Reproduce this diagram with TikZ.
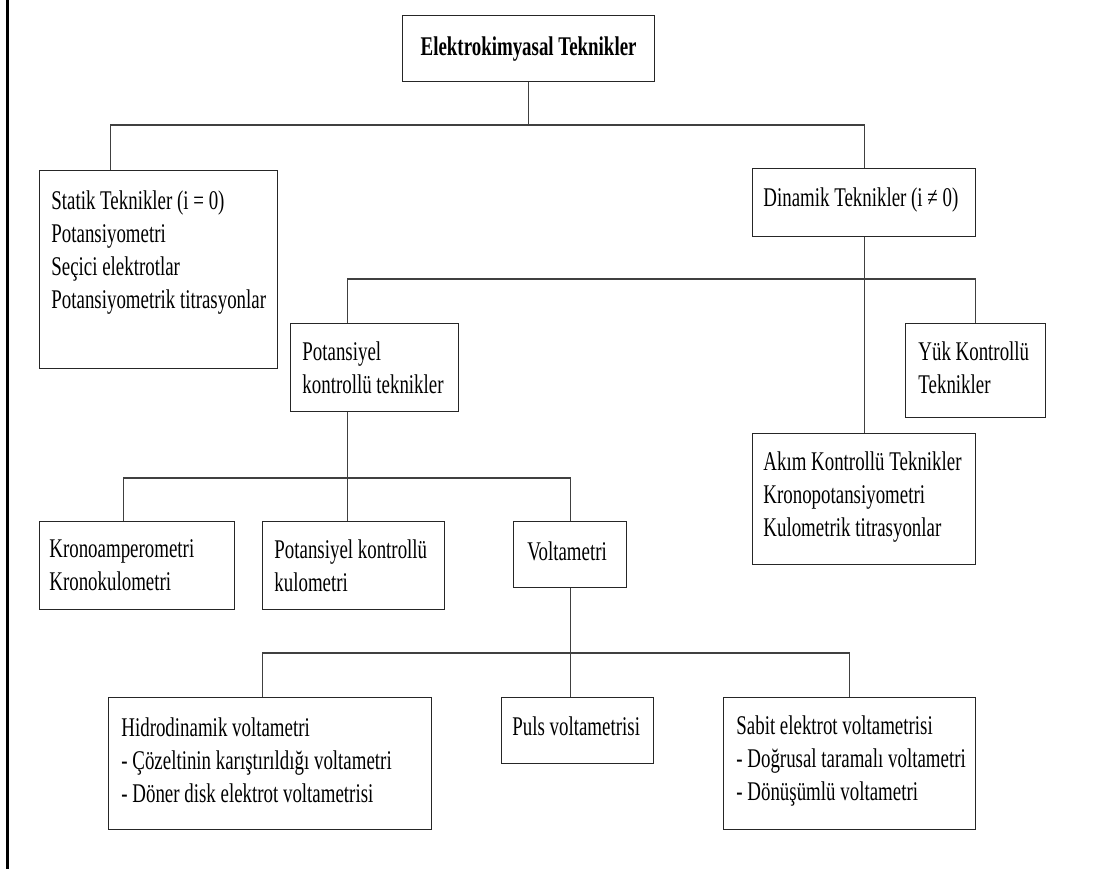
\documentclass[tikz,border=0pt]{standalone}
\usepackage{fontspec}
\setmainfont{Liberation Serif}[FakeStretch=0.70]
\usetikzlibrary{calc}

\begin{document}
\begin{tikzpicture}[
    x=0.5pt, y=-0.5pt,
    font=\fontsize{13.5}{16.5}\selectfont,
    box/.style={draw=black!85, line width=0.6pt, anchor=north west, inner sep=0pt},
    txt/.style={anchor=west, align=left, inner sep=0pt},
    link/.style={draw=black!75, line width=0.6pt}
]
\useasboundingbox (0,0) rectangle (1117,869);
\draw[line width=1.2pt] (7.5,0) -- (7.5,869);

% boxes (pixel coordinates, y down)
\node[box, minimum width=126pt, minimum height=33pt] (top) at (402,15) {};
\node[box, minimum width=119pt, minimum height=99pt] (statik) at (39,170) {};
\node[box, minimum width=111.5pt, minimum height=34pt] (dinamik) at (752,168) {};
\node[box, minimum width=84pt, minimum height=44pt] (potkont) at (290,323) {};
\node[box, minimum width=70pt, minimum height=47pt] (yuk) at (905,323) {};
\node[box, minimum width=111.5pt, minimum height=65.5pt] (akim) at (752,433) {};
\node[box, minimum width=97.5pt, minimum height=44pt] (krono) at (39,521) {};
\node[box, minimum width=91pt, minimum height=44pt] (potkulo) at (262,521) {};
\node[box, minimum width=56.5pt, minimum height=33pt] (voltam) at (513,521) {};
\node[box, minimum width=161.5pt, minimum height=66pt] (hidro) at (108,697) {};
\node[box, minimum width=76pt, minimum height=33pt] (puls) at (501,697) {};
\node[box, minimum width=126pt, minimum height=66pt] (sabit) at (723,697) {};

% texts
\node[txt, anchor=center, font=\fontsize{13.5}{16.5}\selectfont\bfseries] (top-t) at (top.center)
     {Elektrokimyasal Teknikler};
\node[txt] (statik-t) at ($(statik.west)+(12,-17)$)
     {Statik Teknikler (i = 0)\\Potansiyometri\\Seçici elektrotlar\\Potansiyometrik titrasyonlar};
\node[txt] (dinamik-t) at ($(dinamik.west)+(11,-3)$) {Dinamik Teknikler (i ≠ 0)};
\node[txt] (potkont-t) at ($(potkont.west)+(12,0)$) {Potansiyel\\kontrollü teknikler};
\node[txt] (yuk-t) at ($(yuk.west)+(13,-3)$) {Yük Kontrollü\\Teknikler};
\node[txt] (akim-t) at ($(akim.west)+(11,-2)$)
     {Akım Kontrollü Teknikler\\Kronopotansiyometri\\Kulometrik titrasyonlar};
\node[txt] (krono-t) at ($(krono.west)+(10,0)$) {Kronoamperometri\\Kronokulometri};
\node[txt] (potkulo-t) at ($(potkulo.west)+(12,0)$) {Potansiyel kontrollü\\kulometri};
\node[txt] (voltam-t) at ($(voltam.west)+(14,-3)$) {Voltametri};
\node[txt] (hidro-t) at ($(hidro.west)+(13,-3)$)
     {Hidrodinamik voltametri\\- Çözeltinin karıştırıldığı voltametri\\- Döner disk elektrot voltametrisi};
\node[txt] (puls-t) at ($(puls.west)+(11,-4)$) {Puls voltametrisi};
\node[txt] (sabit-t) at ($(sabit.west)+(13,-3)$)
     {Sabit elektrot voltametrisi\\- Doğrusal taramalı voltametri\\- Dönüşümlü voltametri};

% connectors
\coordinate (busA) at (0,125);
\coordinate (busB) at (0,279);
\coordinate (busC) at (0,478);
\coordinate (busD) at (0,653);
\coordinate (st) at ($(statik.north)+(-48,0)$);
\coordinate (pk) at ($(potkont.north)+(-27,0)$);
\coordinate (pks) at ($(potkont.south)+(-27,0)$);
\coordinate (kr) at ($(krono.north)+(-13.5,0)$);
\coordinate (hd) at ($(hidro.north)+(-7.5,0)$);

\draw[link] (top.south) -- (top.south |- busA);
\draw[link] (st) |- (dinamik.north |- busA) -- (dinamik.north);
\draw[link] (dinamik.south) -- (akim.north);
\draw[link] (pk) |- (yuk.north |- busB) -- (yuk.north);
\draw[link] (pks) -- (pks |- potkulo.north);
\draw[link] (kr) |- (voltam.north |- busC) -- (voltam.north);
\draw[link] (voltam.south) -- (voltam.south |- puls.north);
\draw[link] (hd) |- (sabit.north |- busD) -- (sabit.north);
\end{tikzpicture}
\end{document}
